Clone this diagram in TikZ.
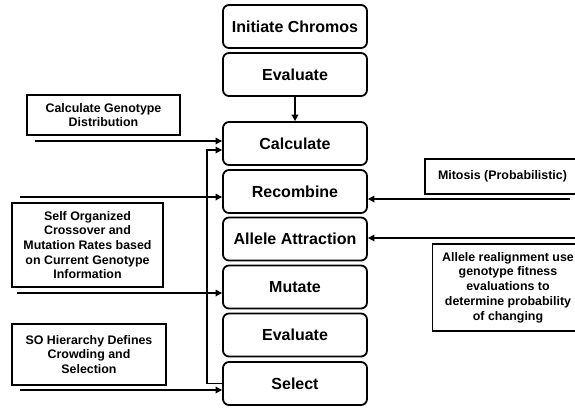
\documentclass[tikz,border=0pt]{standalone}
\usepackage{fontspec}
\setmainfont{Liberation Sans}
\usetikzlibrary{arrows.meta}
\begin{document}
\begin{tikzpicture}[x=1pt,y=-1pt,
  mainbox/.style={draw,line width=1.8pt,rounded corners=6pt,minimum width=144pt,minimum height=43pt,inner sep=0pt,
    font=\fontsize{16}{18}\selectfont\bfseries},
  notebox/.style={draw,line width=1.8pt,inner sep=0pt,align=center,
    font=\fontsize{12.4}{14.7}\selectfont\bfseries},
  arr/.style={line width=1.8pt,-{Triangle[length=6.5pt,width=6.5pt]}}]
\clip (0,0) rectangle (575,408);
\fill[white] (0,0) rectangle (575,408);
% main column
\node[mainbox] (init) at (295,26.5) {Initiate Chromos};
\node[mainbox] (eval1) at (295,74.5) {Evaluate};
\node[mainbox] (calc) at (295,143.5) {Calculate};
\node[mainbox] (recomb) at (295,191.5) {Recombine};
\node[mainbox] (allele) at (295,239) {Allele Attraction};
\node[mainbox] (mutate) at (295,287) {Mutate};
\node[mainbox] (eval2) at (295,335) {Evaluate};
\node[mainbox] (select) at (295,383.5) {Select};
% side notes
\node[notebox,minimum width=153pt,minimum height=40pt] (cgd) at (103.5,115) {Calculate Genotype\\Distribution};
\node[notebox,minimum width=151pt,minimum height=84pt] (so) at (87.5,245) {Self Organized\\Crossover and\\Mutation Rates based\\on Current Genotype\\Information};
\node[notebox,minimum width=154pt,minimum height=61pt] (soh) at (89,354.5) {SO Hierarchy Defines\\Crowding and\\Selection};
\node[notebox,minimum width=155pt,minimum height=35pt] (mit) at (502.5,176.5) {Mitosis (Probabilistic)};
\node[notebox,minimum width=151pt,minimum height=87pt] (real) at (508,287.5) {Allele realignment use\\genotype fitness\\evaluations to\\determine probability\\of changing};
% connectors
\draw[arr] (eval1) -- (calc);
\coordinate (l1) at (35,141);
\coordinate (l2) at (20,197);
\coordinate (l3) at (17,293);
\coordinate (l4) at (20,390);
\coordinate (r1) at (570,199);
\coordinate (r2) at (576,238);
\coordinate (loopx) at (207,150);
\draw[arr] (l1) -- (l1 -| calc.west);
\draw[arr] (l2) -- (l2 -| recomb.west);
\draw[arr] (l3) -- (l3 -| mutate.west);
\draw[arr] (l4) -- (l4 -| select.west);
\draw[arr] (r1) -- (r1 -| recomb.east);
\draw[arr] (r2) -- (r2 -| allele.east);
\draw[arr] (select.west) -- (select.west -| loopx) -- (loopx) -- (loopx -| calc.west);
\end{tikzpicture}
\end{document}
